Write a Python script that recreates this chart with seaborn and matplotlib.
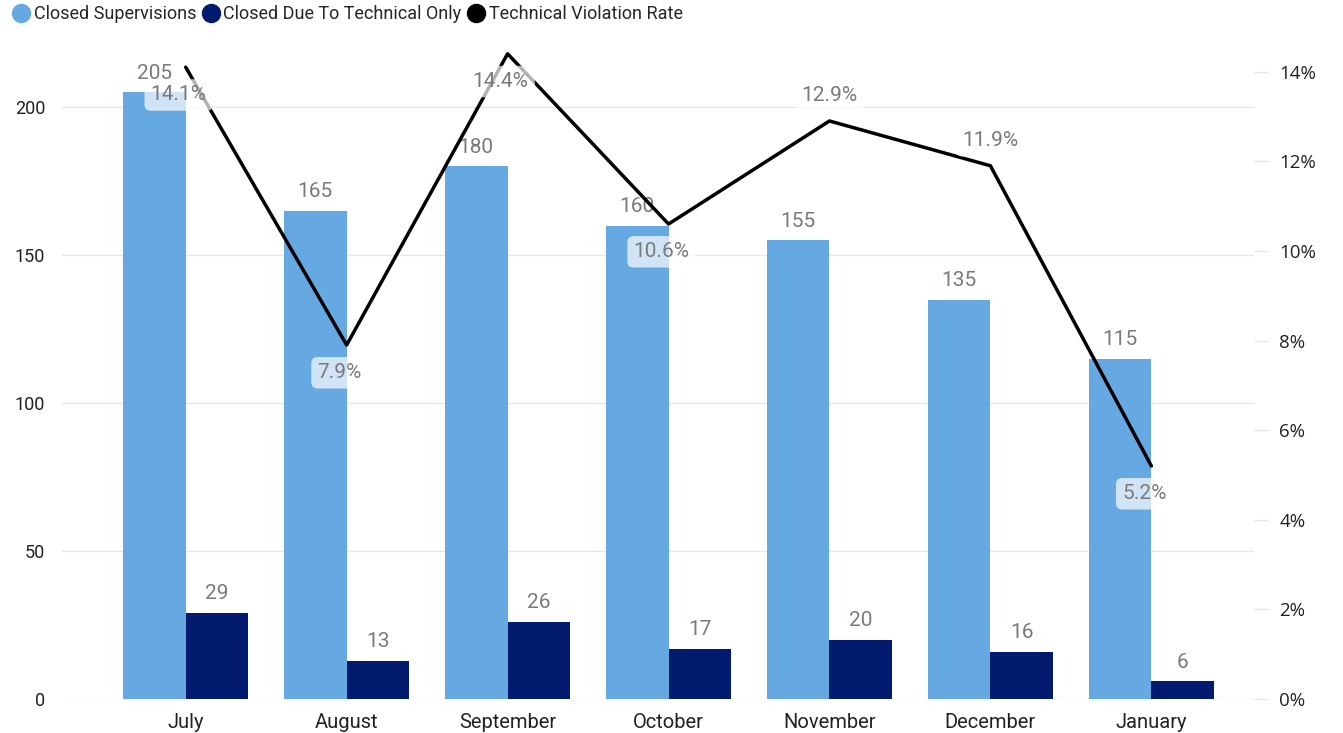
import numpy as np
import pandas as pd
import matplotlib
matplotlib.use("Agg")
import matplotlib.pyplot as plt
from matplotlib.lines import Line2D
import seaborn as sns

months = ["July", "August", "September", "October", "November", "December", "January"]
closed_supervisions = [205, 165, 180, 160, 155, 135, 115]
closed_technical = [29, 13, 26, 17, 20, 16, 6]
violation_rate = [14.1, 7.9, 14.4, 10.6, 12.9, 11.9, 5.2]
label_side = ["below", "below", "below", "below", "above", "above", "below"]

LIGHT = "#66A8E2"
DARK = "#021B6E"
LABEL_GRAY = "#7A7A7A"

sns.set_theme(style="white")
plt.rcParams["font.family"] = ["Roboto", "DejaVu Sans"]

df = pd.DataFrame({
    "month": months * 2,
    "value": closed_supervisions + closed_technical,
    "series": ["Closed Supervisions"] * 7 + ["Closed Due To Technical Only"] * 7,
})

fig = plt.figure(figsize=(13.43, 7.33), dpi=100)
ax = fig.add_axes([0.046, 0.0464, 0.888, 0.8986])

sns.barplot(data=df, x="month", y="value", hue="series", order=months,
            palette=[LIGHT, DARK], width=0.78, gap=0, saturation=1,
            linewidth=0, legend=False, ax=ax)

ax.set_xlim(-0.77, 6.64)
ax.set_ylim(0, 222.6)
ax.set_yticks([0, 50, 100, 150, 200])
ax.yaxis.grid(True, color="#E6E6E6", lw=1)
ax.set_axisbelow(True)
for s in ax.spines.values():
    s.set_visible(False)
ax.set_xlabel("")
ax.set_ylabel("")
ax.tick_params(axis="y", length=0, pad=12, labelsize=13)
ax.tick_params(axis="x", length=0, pad=10, labelsize=14.5)
for lab in ax.get_yticklabels() + ax.get_xticklabels():
    lab.set_color("#222222")

for cont in ax.containers:
    ax.bar_label(cont, padding=7, fontsize=15, color=LABEL_GRAY)

ax2 = ax.twinx()
x = np.arange(len(months))
sns.lineplot(x=x, y=violation_rate, color="black", lw=2.5, ax=ax2)
ax2.set_ylim(0, 14.7)
ax2.set_yticks(np.arange(0, 15, 2))
ax2.set_yticklabels([f"{v}%" for v in range(0, 15, 2)],
                    family=["Open Sans", "DejaVu Sans"], fontsize=13.5,
                    color="#222222")
ax2.tick_params(axis="y", length=10, width=1, color="#E6E6E6", pad=8,
                direction="out")
for s in ax2.spines.values():
    s.set_visible(False)
ax2.grid(False)

for xi, v, side in zip(x, violation_rate, label_side):
    dx, dy = (-5, -20) if side == "below" else (0, 18)
    ax2.annotate(f"{v}%", (xi, v), xytext=(dx, dy), textcoords="offset points",
                 ha="center", va="center", fontsize=15, color=LABEL_GRAY,
                 bbox=dict(boxstyle="round,pad=0.3", fc="white", ec="none", alpha=0.7))

handles = [
    Line2D([], [], marker="o", ls="", color=LIGHT, markersize=13),
    Line2D([], [], marker="o", ls="", color=DARK, markersize=13),
    Line2D([], [], marker="o", ls="", color="black", markersize=13),
]
fig.legend(handles, ["Closed Supervisions", "Closed Due To Technical Only", "Technical Violation Rate"],
           loc="upper left", bbox_to_anchor=(-0.003, 1.015), ncol=3, frameon=False,
           handletextpad=0.2, columnspacing=0.3, handlelength=1.0,
           prop={"size": 13})

fig.savefig("out.png", dpi=100)
